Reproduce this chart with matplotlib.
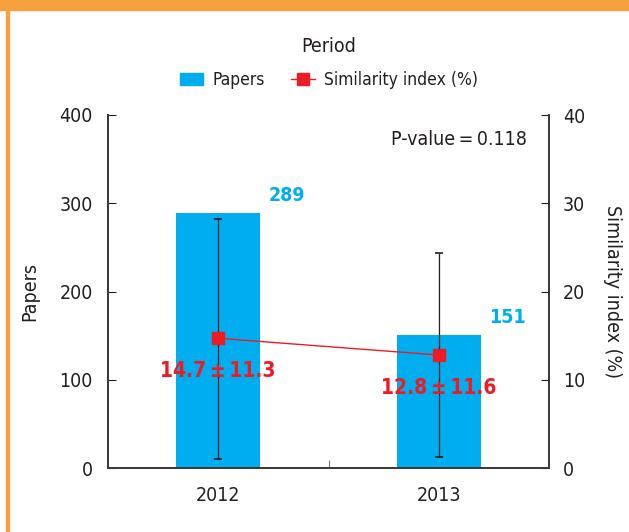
import matplotlib
matplotlib.use("Agg")
import matplotlib.pyplot as plt
from matplotlib import font_manager
from matplotlib.patches import Rectangle
import numpy as np

# condensed font if there is one
names = {(f.name, f.stretch) for f in font_manager.fontManager.ttflist}
if any(n == 'Liberation Sans Narrow' for n, s in names):
    plt.rcParams['font.family'] = ['Liberation Sans Narrow', 'DejaVu Sans']
else:
    plt.rcParams['font.family'] = ['DejaVu Sans']
    plt.rcParams['font.stretch'] = 'condensed'

# data
years = ["2012", "2013"]
papers = [289, 151]
sim_mean = [14.7, 12.8]
sim_sd_txt = [11.3, 11.6]
sim_err_low = [13.7, 11.6]
sim_err_high = [13.5, 11.6]
p_value = "0.118"

blue = "#00AEEF"
red = "#ED1C24"
orange = "#F7A040"
dark = "#231F20"

fig = plt.figure(figsize=(6.29, 5.32), dpi=100)
# orange frame (top band + left line)
fig.patches.append(Rectangle((0, 1 - 10/532), 1, 10/532, transform=fig.transFigure, color=orange, zorder=0))
fig.patches.append(Rectangle((6/629, 0), 3/629, 1, transform=fig.transFigure, color=orange, zorder=0))

ax = fig.add_axes([108/629, 1 - 468/532, 441/629, 353/532])
x = np.arange(len(years))
ax.bar(x, papers, width=0.38, color=blue, zorder=1)
ax.set_xlim(-0.5, 1.5)
ax.set_ylim(0, 400)
ax.set_yticks([0, 100, 200, 300, 400])
ax.set_xticks([0.5])
ax.set_xticklabels([""])
ax.tick_params(axis='x', direction='in', length=6, color='#777777')
ax.tick_params(axis='y', direction='in', length=6, labelsize=14, colors=dark, pad=11)
for i, y in enumerate(years):
    ax.text(x[i], -0.05, y, transform=ax.get_xaxis_transform(), ha='center', va='top',
            fontsize=14, color=dark)
ax.spines['top'].set_visible(False)
for s in ['left', 'right', 'bottom']:
    ax.spines[s].set_color('#3a3a3a')
    ax.spines[s].set_linewidth(1.3)
ax.set_ylabel("Papers", fontsize=14, color=dark, va='center')
ax.yaxis.set_label_coords(-0.177, 0.5)

ax2 = ax.twinx()
ax2.set_ylim(0, 40)
ax2.set_yticks([0, 10, 20, 30, 40])
ax2.tick_params(axis='y', direction='in', length=6, labelsize=14, colors=dark, pad=10)
ax2.spines['top'].set_visible(False)
for s in ['left', 'right', 'bottom']:
    ax2.spines[s].set_color('#3a3a3a')
    ax2.spines[s].set_linewidth(1.3)
ax2.errorbar(x, sim_mean, yerr=[sim_err_low, sim_err_high], fmt='none', ecolor=dark,
             elinewidth=0.9, capsize=3, capthick=1.2, zorder=2)
ax2.plot(x, sim_mean, '-s', color=red, lw=1, markersize=9, zorder=3)
ax2.set_ylabel("Similarity index (%)", fontsize=14, color=dark, rotation=270, va='center')
ax2.yaxis.set_label_coords(1.143, 0.5)

# value labels
for i in range(len(years)):
    ax.text(x[i] + 0.31, papers[i] + 9, str(papers[i]), ha='center', va='bottom',
            fontsize=14, fontweight='bold', color=blue)
    ax2.text(x[i], sim_mean[i] - 2.6, f"{sim_mean[i]}\u2009\u00b1\u2009{sim_sd_txt[i]}", ha='center', va='top',
             fontsize=15, fontweight='bold', color=red)
ax2.text(0.95, 0.93, f"P-value\u2009=\u2009{p_value}", transform=ax.transAxes, ha='right', va='center',
         fontsize=14, color=dark)

# legend
fig.text(329/629, 1 - 46/532, "Period", ha='center', va='center', fontsize=14, color=dark)
h1 = Rectangle((0, 0), 1, 1, color=blue)
h2, = ax2.plot([], [], '-s', color=red, lw=1, markersize=8)
fig.legend([h1, h2], ["Papers", "Similarity index (%)"], loc='center', bbox_to_anchor=(329/629, 1 - 80/532),
           ncol=2, frameon=False, fontsize=12.5, handlelength=1.35, handleheight=0.75, handletextpad=0.55,
           columnspacing=1.5, labelcolor=dark)

fig.savefig("out.png", dpi=100, facecolor='white')
